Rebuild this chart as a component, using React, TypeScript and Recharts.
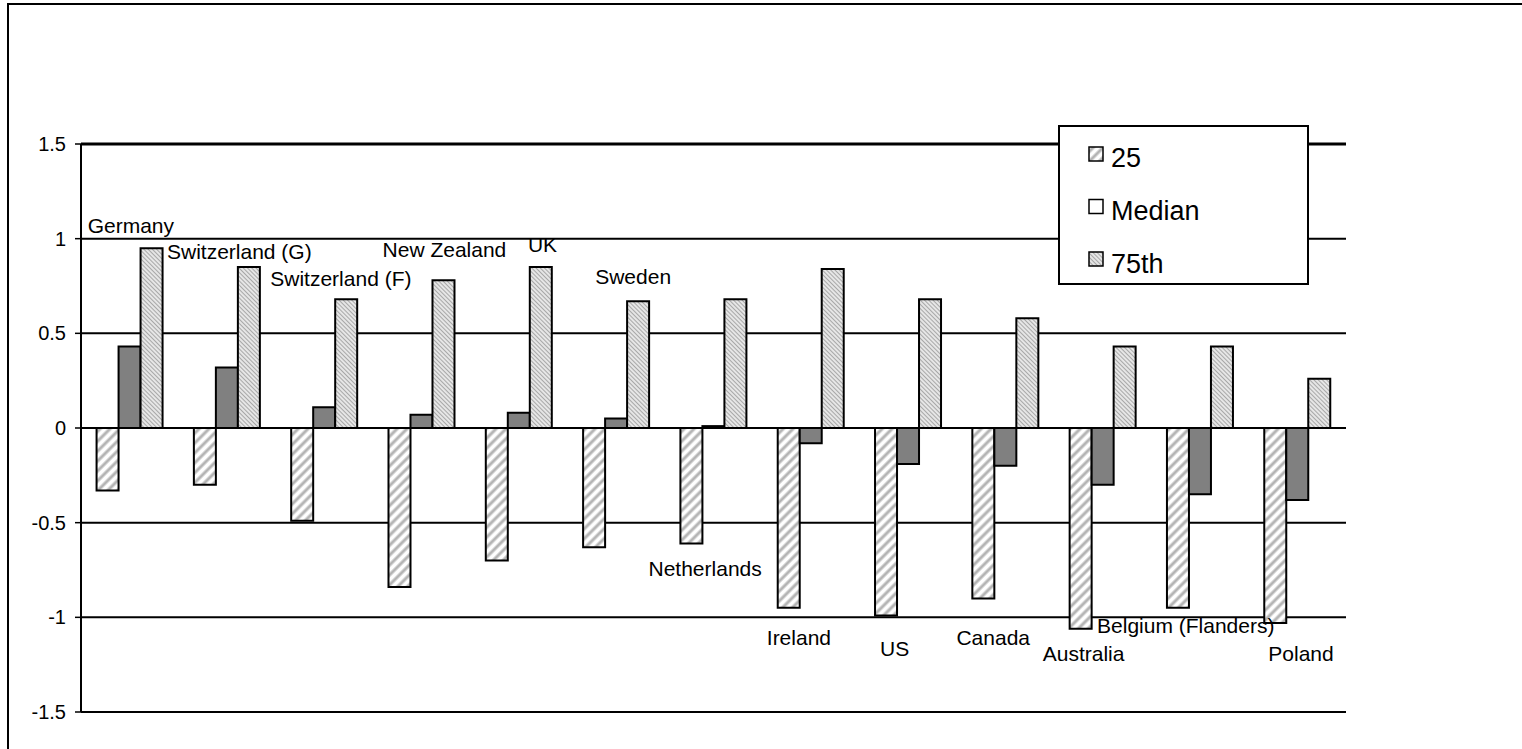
import { ComposedChart, Bar, Line, XAxis, YAxis, CartesianGrid, Legend, ReferenceLine } from 'recharts';

const categories = ['Germany', 'Switzerland (G)', 'Switzerland (F)', 'New Zealand', 'UK', 'Sweden', 'Netherlands', 'Ireland', 'US', 'Canada', 'Australia', 'Belgium (Flanders)', 'Poland'];
const p25 = [-0.33, -0.30, -0.49, -0.84, -0.70, -0.63, -0.61, -0.95, -0.99, -0.90, -1.06, -0.95, -1.03];
const median = [0.43, 0.32, 0.11, 0.07, 0.08, 0.05, 0.01, -0.08, -0.19, -0.20, -0.30, -0.35, -0.38];
const p75 = [0.95, 0.85, 0.68, 0.78, 0.85, 0.67, 0.68, 0.84, 0.68, 0.58, 0.43, 0.43, 0.26];
const yTicks = [-1.5, -1, -0.5, 0, 0.5, 1, 1.5];

// where Excel left each country label (value level, horizontal nudge from category centre)
const labelLevel = [1.03, 0.89, 0.75, 0.905, 0.927, 0.76, -0.78, -1.148, -1.206, -1.148, -1.233, -1.081, -1.233];
const labelShift = [-42, -60, -54, -39, 9, -21, -65, -44, -28, -49, -60, -103, -29];

const legendItems = [
  { name: '25', fill: 'url(#pat25)' },
  { name: 'Median', fill: '#ffffff' },
  { name: '75th', fill: 'url(#pat75)' },
];

const data = categories.map((name, i) => ({ name, p25: p25[i], median: median[i], p75: p75[i], labelAt: labelLevel[i] }));

const FONT = '"Liberation Sans", Arial, sans-serif';

function CountryLabel(props: any) {
  const { cx, cy, index } = props;
  if (cx == null || cy == null) return <g key={'l' + index} />;
  return (
    <text key={'l' + index} x={cx + labelShift[index]} y={cy} fontSize={21} fontFamily={FONT} fill="#000">
      {categories[index]}
    </text>
  );
}

function LegendBox() {
  return (
    <div style={{ width: 251, height: 160, boxSizing: 'border-box', border: '2px solid #000', background: '#fff' }}>
      <svg width={247} height={156} style={{ display: 'block' }}>
        {legendItems.map((it, i) => (
          <g key={it.name}>
            <rect x={29} y={20 + i * 52.5} width={14} height={14} fill={it.fill} stroke="#000" strokeWidth={1.5} />
            <text x={51} y={40 + i * 53} fontSize={27} fontFamily={FONT} fill="#000">{it.name}</text>
          </g>
        ))}
      </svg>
    </div>
  );
}

export default function App() {
  return (
    <div style={{ position: 'absolute', left: 0, top: 0, width: 1522, height: 749, overflow: 'hidden', background: '#fff' }}>
      <div style={{ position: 'absolute', left: 7, top: 3, width: 1600, height: 800, borderLeft: '2px solid #000', borderTop: '2px solid #000' }} />
      <div style={{ position: 'absolute', left: 0, top: 0 }}>
        <ComposedChart width={1522} height={749} data={data} margin={{ top: 144, right: 176, bottom: 37, left: 0 }}
          barCategoryGap="16%" barGap={0}>
          <defs>
            <pattern id="pat25" patternUnits="userSpaceOnUse" width={7} height={7} patternTransform="rotate(45)">
              <rect width={7} height={7} fill="#ffffff" />
              <rect x={1} width={1} height={7} fill="#d8d8d8" />
              <rect x={2} width={2} height={7} fill="#b4b4b4" />
              <rect x={4} width={1} height={7} fill="#d8d8d8" />
            </pattern>
            <pattern id="pat75" patternUnits="userSpaceOnUse" width={3} height={3} patternTransform="rotate(-45)">
              <rect width={3} height={3} fill="#e6e6e6" />
              <rect width={1} height={3} fill="#a8a8a8" />
            </pattern>
          </defs>
          <CartesianGrid vertical={false} stroke="#000" strokeWidth={2} />
          <XAxis dataKey="name" hide />
          <YAxis domain={[-1.5, 1.5]} ticks={yTicks} width={81} allowDataOverflow
            axisLine={{ stroke: '#000', strokeWidth: 2 }} tickLine={{ stroke: '#000', strokeWidth: 1.5 }}
            tickSize={6} tickMargin={9} tick={{ fill: '#000', fontSize: 20, fontFamily: FONT }} />
          <YAxis yAxisId="right" orientation="right" domain={[-1.5, 1.5]} width={0} tick={false} tickLine={false}
            axisLine={{ stroke: '#000', strokeWidth: 2 }} />
          <ReferenceLine y={1.5} stroke="#000" strokeWidth={3} />
          <Legend layout="vertical" align="center" verticalAlign="middle" content={<LegendBox />}
            wrapperStyle={{ left: 1058, top: 125, width: 251, height: 160 }} />
          <Bar dataKey="p25" name="25" fill="url(#pat25)" stroke="#000" strokeWidth={2} isAnimationActive={false} />
          <Bar dataKey="median" name="Median" fill="#808080" stroke="#000" strokeWidth={2} isAnimationActive={false} />
          <Bar dataKey="p75" name="75th" fill="url(#pat75)" stroke="#000" strokeWidth={2} isAnimationActive={false} />
          <Line dataKey="labelAt" stroke="none" legendType="none" dot={CountryLabel} activeDot={false} isAnimationActive={false} />
        </ComposedChart>
      </div>
    </div>
  );
}
